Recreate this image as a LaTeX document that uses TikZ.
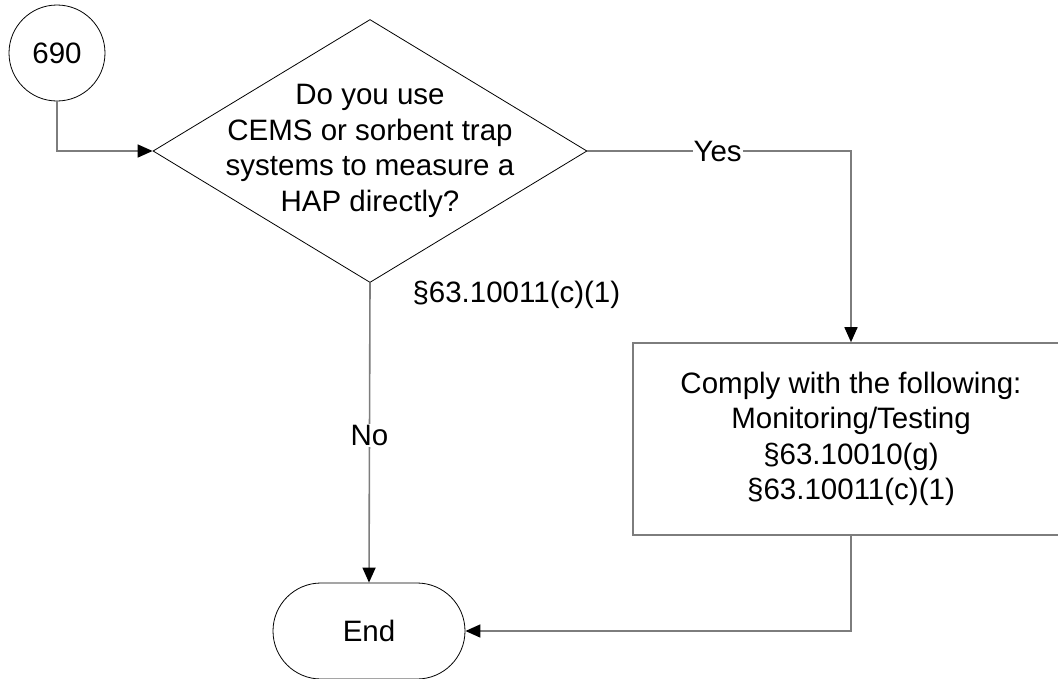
\documentclass[tikz,border=0pt]{standalone}
\usepackage{fontspec}
\setmainfont{Liberation Sans}
\usetikzlibrary{shapes.geometric, positioning, arrows.meta, calc}
\definecolor{linegray}{RGB}{125,125,125}

\begin{document}
\begin{tikzpicture}[x=1pt, y=-1pt,
    every node/.style={font=\fontsize{29.5}{35.5}\selectfont, align=center},
    terminal/.style={draw=black, line width=0.8pt, rounded corners=48pt, minimum width=192pt, minimum height=96pt, inner sep=0pt},
    connect/.style={draw=black, line width=0.8pt, circle, minimum size=96pt, inner sep=0pt},
    decision/.style={draw=black, line width=0.8pt, diamond, minimum width=434pt, minimum height=263pt, inner sep=0pt},
    process/.style={draw=linegray, line width=1.6pt, minimum width=436pt, minimum height=192pt, inner sep=0pt},
    flow/.style={draw=linegray, line width=1.6pt, -{Triangle[length=15pt, width=13pt, color=black]}},
    lbl/.style={fill=white, inner sep=1pt}]
    % Page frame
    \clip (0,0) rectangle (1058,678);

    % Shapes
    \node[connect] (start) at (57,53) {690};
    \node[decision] (dec) at (370,151) {};
    \node (dectext) at (370,151) {Do you use\\CEMS or sorbent trap\\systems to measure a\\HAP directly?};
    \node[anchor=west] (ref) at (409,295) {\S63.10011(c)(1)};
    \node[process] (box) at (851,439) {Comply with the following:\\Monitoring/Testing\\\S63.10010(g)\\\S63.10011(c)(1)};
    \node[terminal] (end) at (369,631) {End};

    % Connectors
    \draw[flow] (start.south) |- (dec.west);
    \draw[flow] (dec.east) -| node[lbl, pos=0.247] {Yes} (box.north);
    \draw[flow] (dec.south) -- node[lbl, pos=0.51] {No} (end.north);
    \draw[flow] (box.south) |- (end.east);
\end{tikzpicture}
\end{document}
